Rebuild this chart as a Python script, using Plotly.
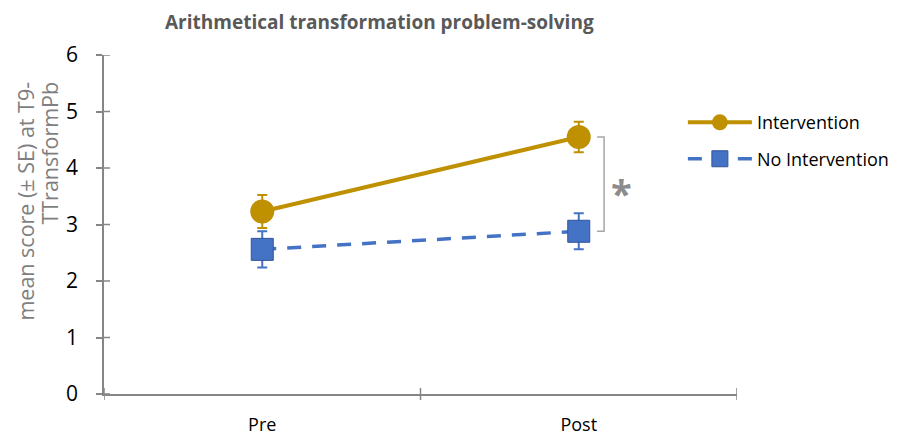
import plotly.graph_objects as go

categories = ["Pre", "Post"]
x_pos = [0.5, 1.5]
intervention = [3.23, 4.55]
intervention_se = [0.29, 0.27]
no_intervention = [2.56, 2.88]
no_intervention_se = [0.32, 0.32]
y_ticks = [0, 1, 2, 3, 4, 5, 6]
x_bounds = [0, 1, 2]
y_title_lines = ["mean score (± SE) at T9-", "TTransformPb"]

GOLD = "#BF9000"
BLUE = "#4472C4"
AXIS = "#868686"
FONT = "Open Sans"

fig = go.Figure()
fig.add_trace(go.Scatter(
    x=x_pos, y=intervention, name="Intervention", mode="lines+markers",
    legendgroup="a",
    line=dict(color=GOLD, width=4),
    marker=dict(symbol="circle", size=24, color=GOLD),
    error_y=dict(type="data", array=intervention_se, color=GOLD, thickness=2, width=5),
))
fig.add_trace(go.Scatter(
    x=x_pos, y=no_intervention, name="No Intervention", mode="lines+markers",
    legendgroup="b",
    line=dict(color=BLUE, width=3.5, dash="14px,11px"),
    marker=dict(symbol="square", size=22, color=BLUE, line=dict(color="#2F5597", width=1)),
    error_y=dict(type="data", array=no_intervention_se, color=BLUE, thickness=2, width=5),
))

shapes = []
for xb in x_bounds:
    shapes.append(dict(type="line", xref="x", yref="paper", x0=xb, x1=xb,
                       y0=-0.018, y1=0.018, line=dict(color=AXIS, width=1.5)))
for yt in y_ticks:
    shapes.append(dict(type="line", xref="paper", yref="y", x0=0, x1=0.0095,
                       y0=yt, y1=yt, line=dict(color=AXIS, width=1.5)))
bx0 = x_pos[1] + 0.058
bx1 = x_pos[1] + 0.08
shapes.append(dict(type="path", xref="x", yref="y",
                   path=f"M {bx0},{intervention[1]} L {bx1},{intervention[1]} L {bx1},{no_intervention[1]} L {bx0},{no_intervention[1]}",
                   line=dict(color="#A6A6A6", width=1.5)))

annotations = [
    dict(text="<b>Arithmetical transformation problem-solving</b>", xref="paper", yref="paper",
         x=0.436, y=1.097, xanchor="center", yanchor="middle", showarrow=False,
         font=dict(size=19, color="#595959", family=FONT)),
    dict(text="<b>*</b>", xref="x", yref="y", x=x_pos[1] + 0.135, y=3.56,
         showarrow=False, font=dict(size=38, color="#8C8C8C", family=FONT)),
]
for i, line in enumerate(y_title_lines):
    annotations.append(dict(text=line, xref="paper", yref="paper",
                            x=-0.1232 + i * 0.0379, y=0.926, xanchor="center", yanchor="top",
                            textangle=-90, showarrow=False,
                            font=dict(size=21.5, color="#7F7F7F", family=FONT)))

fig.update_layout(
    width=900, height=427,
    margin=dict(l=96, r=171, t=47, b=41),
    plot_bgcolor="white", paper_bgcolor="white",
    font=dict(family=FONT, color="#000000"),
    showlegend=True,
    legend=dict(x=0.9145, y=0.855, xanchor="left", yanchor="top",
                font=dict(size=18, color="#000000", family=FONT),
                itemwidth=64, tracegroupgap=10, bgcolor="rgba(0,0,0,0)"),
    xaxis=dict(range=[0, 2], tickvals=x_pos, ticktext=categories, ticks="",
               showline=True, linecolor=AXIS, linewidth=1.5, showgrid=False, zeroline=False,
               tickfont=dict(size=18, color="#000000"), ticklabelstandoff=14,
               automargin=False),
    yaxis=dict(range=[0, 6], tickvals=y_ticks, ticks="outside", ticklen=6, tickcolor=AXIS,
               tickwidth=1.5, showline=True, linecolor=AXIS, linewidth=1.5, showgrid=False,
               zeroline=False, tickfont=dict(size=21, color="#000000"), ticklabelstandoff=14,
               automargin=False),
    shapes=shapes,
    annotations=annotations,
)

fig.write_html("out.html")
